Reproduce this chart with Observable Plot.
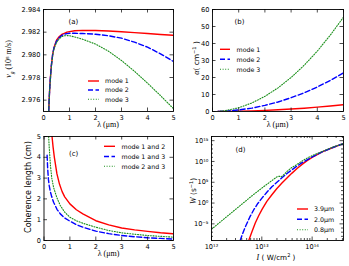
<!DOCTYPE html>
<html><head><meta charset="utf-8">
<script src="https://cdn.jsdelivr.net/npm/d3@7"></script>
<script src="https://cdn.jsdelivr.net/npm/@observablehq/plot@0.6"></script>
<style>
body{margin:0;background:#fff;}
#fig{position:relative;width:349px;height:266px;overflow:hidden;background:#fff;}
#fig svg{position:absolute;overflow:visible;}
</style></head><body><div id="fig"></div>
<script>
// ---------- Panel (a): group velocity (10^8 m/s) vs wavelength (um)
const lamA = [0.2,0.22,0.25,0.3,0.35,0.4,0.5,0.6,0.7,0.8,0.9,1.0,1.2,1.5,2.0,2.5,3.0,3.5,4.0,4.5,5.0];
const vgMode1 = [2.9750,2.9762,2.9775,2.9790,2.9800,2.9806,2.9813,2.9816,2.9818,2.9819,2.98200,2.98205,2.98212,2.98216,2.98215,2.98210,2.98204,2.98196,2.98188,2.98180,2.98172];
const vgMode2 = [2.9750,2.9762,2.9775,2.9790,2.9800,2.9806,2.9812,2.9815,2.9817,2.98182,2.98187,2.98190,2.98190,2.98188,2.98182,2.98168,2.98147,2.98112,2.98068,2.98009,2.97941];
const vgMode3 = [2.9750,2.9761,2.9774,2.9789,2.9799,2.9805,2.9811,2.9814,2.9816,2.98168,2.98170,2.98168,2.98158,2.98138,2.98095,2.98032,2.97950,2.97855,2.97750,2.97640,2.97525];

// ---------- Panel (b): loss alpha (cm^-1) vs wavelength
const lamB = [0.2,0.5,1.0,1.5,2.0,2.5,3.0,3.5,4.0,4.5,5.0];
const alphaMode1 = [0,0.03,0.15,0.35,0.65,1.0,1.45,1.95,2.55,3.25,4.0];
const alphaMode2 = [0,0.2,0.9,2.0,3.6,5.6,8.1,11.0,14.4,18.3,22.7];
const alphaMode3 = [0.02,0.55,2.2,5.0,8.9,13.9,20.0,27.2,35.5,45.0,55.5];

// ---------- Panel (c): coherence length (cm) vs wavelength
const lamC12 = [0.31,0.35,0.4,0.5,0.6,0.7,0.8,1.0,1.25,1.5,2.0,2.5,3.0,3.5,4.0,4.5,5.0];
const coh12  = [5.0,4.5,4.0,3.2,2.7,2.35,2.1,1.76,1.48,1.28,0.95,0.75,0.6,0.51,0.44,0.37,0.32];
const lamC13 = [0.12,0.14,0.17,0.2,0.245,0.3,0.37,0.5,0.63,0.8,1.0,1.25,1.5,2.0,2.5,3.0,3.5,4.0,4.5,5.0];
const coh13  = [4.1,3.5,2.95,2.65,2.35,2.1,1.84,1.5,1.28,1.08,0.93,0.76,0.64,0.45,0.33,0.24,0.18,0.13,0.1,0.07];
const lamC23 = [0.18,0.2,0.25,0.3,0.37,0.5,0.63,0.8,1.0,1.25,1.5,2.0,2.5,3.0,3.5,4.0,4.5,5.0];
const coh23  = [5.0,4.5,3.6,3.0,2.55,2.05,1.68,1.36,1.12,0.95,0.83,0.64,0.48,0.37,0.3,0.24,0.2,0.16];

// ---------- Panel (d): ionization rate W (s^-1) vs intensity (W/cm^2), as log10 values
const logI39 = [12.74,12.8,12.87,12.94,13.01,13.1,13.2,13.3,13.4,13.5,13.6,13.7,13.8,13.9,14.0,14.2,14.4,14.62];
const logW39 = [-9,-7.0,-4.8,-3.0,-1.4,0.4,2.0,3.5,4.8,6.0,7.2,8.3,9.3,10.2,11.0,12.3,13.3,14.3];
const logI20 = [12.57,12.62,12.68,12.76,12.84,12.92,13.01,13.1,13.2,13.3,13.4,13.5,13.6,13.7,13.8,13.9,14.0,14.2,14.4,14.62];
const logW20 = [-9,-7.3,-5.5,-3.4,-1.6,-0.1,1.3,2.6,3.9,5.0,6.1,7.1,8.0,8.9,9.7,10.4,11.1,12.3,13.3,14.3];
const logI08 = [12.0,12.2,12.4,12.6,12.8,13.0,13.1,13.2,13.3,13.35,13.38,13.42,13.5,13.6,13.65,13.7,13.8,13.9,14.0,14.2,14.4,14.62];
const logW08 = [-6.3,-4.3,-2.3,-0.3,1.7,3.6,4.5,5.4,6.3,6.45,6.3,6.6,7.6,8.6,8.9,9.3,10.1,10.8,11.4,12.4,13.4,14.3];

// ---------- tick values
const linX = [0,1,2,3,4,5];
const ticksA = [2.976,2.978,2.980,2.982,2.984];
const ticksB = [0,10,20,30,40,50,60];
const ticksC = [0,1,2,3,4,5];
const ticksDx = [1e12,1e13,1e14];
const ticksDy = [1e-5,1e0,1e5,1e10,1e15];

const modeLabels = ["mode 1","mode 2","mode 3"];
const pairLabels = ["mode 1 and 2","mode 1 and 3","mode 2 and 3"];
const wlLabels = ["3.9\u03bcm","2.0\u03bcm","0.8\u03bcm"];

// ---------- styles
const RED = "#ff0000", BLUE = "#0000ff", GREEN = "#1a8f1a";
const STY = [
  {stroke: RED, strokeWidth: 1.4},
  {stroke: BLUE, strokeWidth: 1.4, strokeDasharray: "5,2.5"},
  {stroke: GREEN, strokeWidth: 1.1, strokeDasharray: "1,1.6"}
];
const SANS = "DejaVu Sans, sans-serif";
const SERIF = "Liberation Serif, DejaVu Serif, serif";

const zip = (xs, ys, f = v => v) => xs.map((x, i) => ({x: f(x), y: f(ys[i])}));
const p10 = v => Math.pow(10, v);
const SUP = {"0":"\u2070","1":"\u00b9","2":"\u00b2","3":"\u00b3","4":"\u2074","5":"\u2075","6":"\u2076","7":"\u2077","8":"\u2078","9":"\u2079","-":"\u207b"};
const supFmt = v => "10" + String(Math.round(Math.log10(v))).split("").map(c => SUP[c]).join("");

function minorLog(lo, hi) {
  const out = [];
  for (let e = Math.floor(Math.log10(lo)); e <= Math.ceil(Math.log10(hi)); e++)
    for (let m = 2; m <= 9; m++) { const v = m * Math.pow(10, e); if (v > lo && v < hi) out.push(v); }
  return out;
}

const fig = document.getElementById("fig");

function panel(o) {
  const fw = o.width - o.mL - o.mR, fh = o.height - o.mT - o.mB;
  const tk = 3.5, tkm = 2;
  const tc = {stroke: "black", strokeWidth: 0.7};
  const marks = [];
  o.series.forEach((s, i) => marks.push(Plot.line(s, {x: "x", y: "y", ...STY[i], clip: true})));
  marks.push(Plot.tickX(o.xticks, {x: d => d, insetTop: fh - tk, ...tc}));
  marks.push(Plot.tickX(o.xticks, {x: d => d, insetBottom: fh - tk, ...tc}));
  marks.push(Plot.tickY(o.yticks, {y: d => d, insetRight: fw - tk, ...tc}));
  marks.push(Plot.tickY(o.yticks, {y: d => d, insetLeft: fw - tk, ...tc}));
  if (o.xminor) {
    marks.push(Plot.tickX(o.xminor, {x: d => d, insetTop: fh - tkm, ...tc}));
    marks.push(Plot.tickX(o.xminor, {x: d => d, insetBottom: fh - tkm, ...tc}));
  }
  if (o.yminor) {
    marks.push(Plot.tickY(o.yminor, {y: d => d, insetRight: fw - tkm, ...tc}));
    marks.push(Plot.tickY(o.yminor, {y: d => d, insetLeft: fw - tkm, ...tc}));
  }
  marks.push(Plot.frame({stroke: "black", strokeWidth: 0.9}));
  marks.push(Plot.axisX(o.xticks, {anchor: "bottom", tickSize: 0, tickPadding: 3.5, tickFormat: o.xfmt, label: null, fontSize: o.fs || 6.6}));
  marks.push(Plot.axisY(o.yticks, {anchor: "left", tickSize: 0, tickPadding: 3, tickFormat: o.yfmt, label: null, fontSize: o.fs || 6.6}));
  marks.push(Plot.text([o.label], {frameAnchor: "top-left", dx: o.lx, dy: o.ly, fontSize: 7, fill: "black", fontFamily: SANS}));
  const svg = Plot.plot({
    width: o.width, height: o.height,
    marginLeft: o.mL, marginRight: o.mR, marginTop: o.mT, marginBottom: o.mB,
    x: {type: o.xtype || "linear", domain: o.xdomain},
    y: {type: o.ytype || "linear", domain: o.ydomain},
    style: {fontFamily: SANS, background: "transparent", color: "black"},
    marks
  });
  svg.style.left = o.left + "px";
  svg.style.top = o.top + "px";
  fig.appendChild(svg);
}

panel({left: 0, top: 0, width: 175, height: 133, mL: 43, mR: 2, mT: 9, mB: 22,
  xdomain: [0, 5], ydomain: [2.975, 2.984], xticks: linX, yticks: ticksA,
  xfmt: d3.format("d"), yfmt: d3.format(".3f"), label: "(a)", lx: 25, ly: 10,
  series: [zip(lamA, vgMode1), zip(lamA, vgMode2), zip(lamA, vgMode3)]});

panel({left: 175, top: 0, width: 174, height: 133, mL: 37, mR: 6, mT: 9, mB: 22,
  xdomain: [0, 5], ydomain: [0, 60], xticks: linX, yticks: ticksB,
  xfmt: d3.format("d"), yfmt: d3.format("d"), label: "(b)", lx: 22, ly: 10,
  series: [zip(lamB, alphaMode1), zip(lamB, alphaMode2), zip(lamB, alphaMode3)]});

panel({left: 0, top: 133, width: 175, height: 133, mL: 43.5, mR: 2, mT: 3, mB: 26,
  xdomain: [0, 5], ydomain: [0, 5], xticks: linX, yticks: ticksC,
  xfmt: d3.format("d"), yfmt: d3.format("d"), label: "(c)", lx: 25, ly: 15,
  series: [zip(lamC12, coh12), zip(lamC13, coh13), zip(lamC23, coh23)]});

panel({left: 175, top: 133, width: 174, height: 133, mL: 36, mR: 6, mT: 3, mB: 26,
  xtype: "log", ytype: "log", xdomain: [1e12, 4.2e14], ydomain: [1e-9, 1e16],
  xticks: ticksDx, yticks: ticksDy, xminor: minorLog(1e12, 4.2e14), yminor: d3.range(-9, 17).map(p10).filter(v => !ticksDy.includes(v)),
  xfmt: supFmt, yfmt: supFmt, label: "(d)", lx: 24, ly: 11,
  series: [zip(logI39, logW39, p10), zip(logI20, logW20, p10), zip(logI08, logW08, p10)]});

// ---------- overlay: axis titles and legends
const ov = d3.select(fig).append("svg").attr("width", 349).attr("height", 266).style("left", "0px").style("top", "0px");

function xTitle(cx, cy, parts) {
  const t = ov.append("text").attr("x", cx).attr("y", cy).attr("text-anchor", "middle").attr("font-size", 8);
  parts.forEach(p => t.append("tspan").attr("font-family", p.f || SERIF).attr("font-style", p.i ? "italic" : null)
    .attr("font-size", p.s || null).attr("baseline-shift", p.b || null).text(p.t));
}
function yTitle(cx, cy, parts) {
  const t = ov.append("text").attr("transform", `translate(${cx},${cy}) rotate(-90)`).attr("text-anchor", "middle").attr("dy", "0.35em").attr("font-size", 8);
  parts.forEach(p => t.append("tspan").attr("font-family", p.f || SERIF).attr("font-style", p.i ? "italic" : null)
    .attr("font-size", p.s || null).attr("baseline-shift", p.b || null).text(p.t));
}
const lamTitle = [{t: "\u03bb (\u03bcm)"}];
xTitle(108, 126.5, lamTitle);
xTitle(277.5, 126.5, lamTitle);
xTitle(108.5, 256, lamTitle);
xTitle(276, 260, [{t: "I", i: true}, {t: " ( W/cm", f: SANS, s: 7.2}, {t: "2", f: SANS, s: 5, b: "super"}, {t: " )", f: SANS, s: 7.2}]);
yTitle(8, 59, [{t: "v", i: true}, {t: "g", i: true, s: 5.5, b: "sub"}, {t: " (10"}, {t: "8", s: 5, b: "super"}, {t: " m/s)"}]);
yTitle(196, 58, [{t: "\u03b1", i: true}, {t: "( cm", f: SANS, s: 7.5}, {t: "\u22121", f: SANS, s: 5, b: "super"}, {t: " )", f: SANS, s: 7.5}]);
yTitle(28, 187, [{t: "Coherence length (cm)", f: SANS}]);
yTitle(193, 191, [{t: "W", i: true}, {t: " (s", f: SANS, s: 7.5}, {t: "\u22121", f: SANS, s: 5, b: "super"}, {t: ")", f: SANS, s: 7.5}]);

function legend(x0, x1, tx, ys, labels) {
  labels.forEach((lab, i) => {
    const s = STY[i];
    ov.append("line").attr("x1", x0).attr("x2", x1).attr("y1", ys[i]).attr("y2", ys[i])
      .attr("stroke", s.stroke).attr("stroke-width", s.strokeWidth).attr("stroke-dasharray", s.strokeDasharray || null);
    ov.append("text").attr("x", tx).attr("y", ys[i]).attr("dy", "0.35em").attr("font-size", 6.3)
      .attr("font-family", SANS).text(lab);
  });
}
legend(88, 99, 105, [81, 90, 99.3], modeLabels);
legend(220, 230, 236.5, [49.3, 59.3, 69.3], modeLabels);
legend(104, 115, 121.5, [146.3, 156.5, 166.3], pairLabels);
legend(297, 308, 314, [209, 219.3, 229.7], wlLabels);
</script></body></html>
